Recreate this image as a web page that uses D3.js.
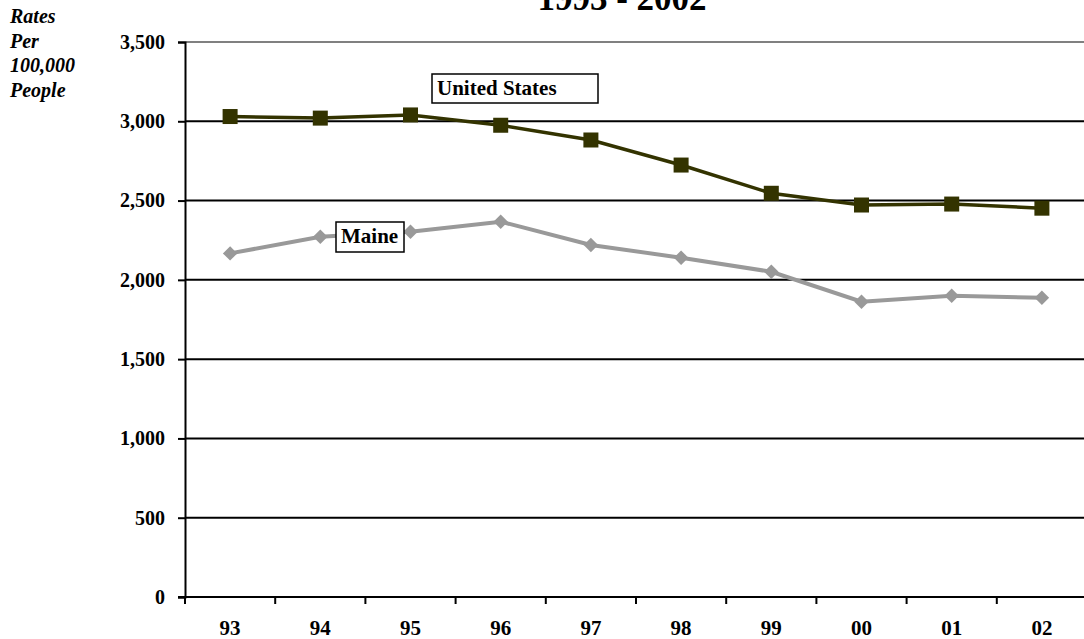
<!DOCTYPE html>
<html>
<head>
<meta charset="utf-8">
<script src="https://cdn.jsdelivr.net/npm/d3@7"></script>
<style>
  body { margin: 0; background: #fff; }
  text { font-family: "Liberation Serif", "DejaVu Serif", serif; font-weight: bold; }
</style>
</head>
<body>
<div class="chart"></div>
<script>
// data
var years = ['93', '94', '95', '96', '97', '98', '99', '00', '01', '02']
var usRates = [3030, 3020, 3040, 2975, 2882, 2724, 2546, 2472, 2478, 2452]
var maineRates = [2167, 2272, 2304, 2367, 2220, 2140, 2051, 1862, 1900, 1887]
var yTicks = [0, 500, 1000, 1500, 2000, 2500, 3000, 3500]
var yTitle = ['Rates', 'Per', '100,000', 'People']

var width = 1084
var height = 639
var margin = { top: 42, right: -3, bottom: 42, left: 185 }

var svg = d3.select('.chart').append('svg')
  .attr('width', width)
  .attr('height', height)

var x = d3.scaleBand()
  .domain(years)
  .range([margin.left, width - margin.right])

var y = d3.scaleLinear()
  .domain([0, 3500])
  .range([height - margin.bottom, margin.top])

// title, mostly cut off at the top as in the original
svg.append('text')
  .attr('x', 622)
  .attr('y', 10)
  .attr('text-anchor', 'middle')
  .style('font-size', '35px')
  .text('1993 - 2002')

// gridlines
svg.append('g')
  .selectAll('line')
  .data(yTicks.filter(d => d > 0))
  .join('line')
  .attr('x1', margin.left)
  .attr('x2', width)
  .attr('y1', d => y(d))
  .attr('y2', d => y(d))
  .attr('stroke', d => d === 3500 ? '#808080' : '#000')
  .attr('stroke-width', 2)

// y axis
var yAxis = svg.append('g')
  .attr('transform', 'translate(' + margin.left + ',0)')
  .call(d3.axisLeft(y).tickValues(yTicks).tickSize(7).tickPadding(13).tickFormat(d3.format(',')))
yAxis.select('.domain').attr('stroke-width', 2)
yAxis.selectAll('.tick line').attr('stroke-width', 2)
yAxis.selectAll('text')
  .style('font-size', '20px')
  .style('font-family', '"Liberation Serif", serif')
  .attr('fill', '#000')

// x axis, ticks between categories
var xAxis = svg.append('g')
  .attr('transform', 'translate(0,' + y(0) + ')')
xAxis.append('line')
  .attr('x1', margin.left - 7)
  .attr('x2', width)
  .attr('stroke', '#000')
  .attr('stroke-width', 2)
xAxis.selectAll('line.tick')
  .data(years)
  .join('line')
  .attr('class', 'tick')
  .attr('x1', d => x(d))
  .attr('x2', d => x(d))
  .attr('y1', 0)
  .attr('y2', 7)
  .attr('stroke', '#000')
  .attr('stroke-width', 2)
xAxis.selectAll('text')
  .data(years)
  .join('text')
  .attr('x', d => x(d) + x.bandwidth() / 2)
  .attr('y', 38)
  .attr('text-anchor', 'middle')
  .style('font-size', '21px')
  .text(d => d)

// y title
svg.append('g')
  .selectAll('text')
  .data(yTitle)
  .join('text')
  .attr('x', 10)
  .attr('y', (d, i) => 23 + i * 24.5)
  .style('font-size', '20px')
  .style('font-style', 'italic')
  .text(d => d)

var cx = d => x(d) + x.bandwidth() / 2
var line = d3.line()
  .x(d => cx(d.year))
  .y(d => y(d.value))

var maine = years.map((d, i) => ({ year: d, value: maineRates[i] }))
var us = years.map((d, i) => ({ year: d, value: usRates[i] }))

// Maine
svg.append('path')
  .datum(maine)
  .attr('d', line)
  .attr('fill', 'none')
  .attr('stroke', '#999999')
  .attr('stroke-width', 4)
svg.append('g')
  .selectAll('path')
  .data(maine)
  .join('path')
  .attr('d', d3.symbol().type(d3.symbolSquare).size(105))
  .attr('transform', d => 'translate(' + cx(d.year) + ',' + y(d.value) + ') rotate(45)')
  .attr('fill', '#999999')

// United States
svg.append('path')
  .datum(us)
  .attr('d', line)
  .attr('fill', 'none')
  .attr('stroke', '#333300')
  .attr('stroke-width', 3.5)
svg.append('g')
  .selectAll('rect')
  .data(us)
  .join('rect')
  .attr('x', d => cx(d.year) - 7.5)
  .attr('y', d => y(d.value) - 7.5)
  .attr('width', 15)
  .attr('height', 15)
  .attr('fill', '#333300')

// series labels in boxes
var labels = [
  { text: 'United States', x: 432, y: 74, w: 166, h: 29 },
  { text: 'Maine', x: 336, y: 222, w: 68, h: 30 }
]
var lab = svg.append('g').selectAll('g')
  .data(labels)
  .join('g')
lab.append('rect')
  .attr('x', d => d.x)
  .attr('y', d => d.y)
  .attr('width', d => d.w)
  .attr('height', d => d.h)
  .attr('fill', '#fff')
  .attr('stroke', '#000')
  .attr('stroke-width', 1.5)
lab.append('text')
  .attr('x', d => d.x + 5)
  .attr('y', d => d.y + 21)
  .style('font-size', '21px')
  .text(d => d.text)
</script>
</body>
</html>
